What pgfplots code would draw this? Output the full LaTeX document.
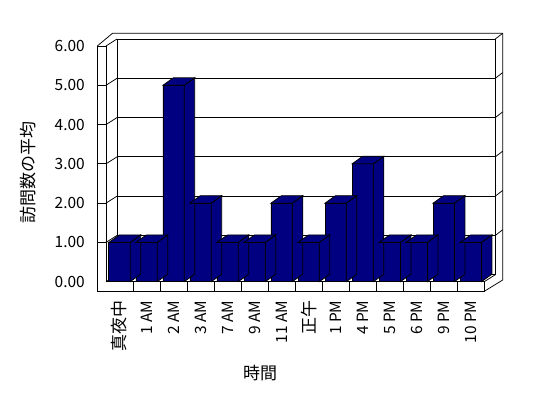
\documentclass[border=0pt]{standalone}
\usepackage{fontspec}
\setmainfont{Noto Sans CJK JP}
\usepackage{pgfplots}
\pgfplotsset{compat=1.18}
\definecolor{navy}{RGB}{0,0,128}

% 3D bar decoration: side face and top face, drawn at the top centre of each bar
\pgfdeclareplotmark{bar3d}{%
  \pgfpathmoveto{\pgfqpoint{10.65pt}{0pt}}%
  \pgfpathlineto{\pgfqpoint{21.15pt}{7.5pt}}%
  \pgfpathlineto{\pgfpoint{21.15pt}{\sidebot pt}}%
  \pgfpathlineto{\pgfpoint{10.65pt}{\negh pt}}%
  \pgfpathclose
  \pgfusepathqfillstroke
  \pgfpathmoveto{\pgfqpoint{-10.65pt}{0pt}}%
  \pgfpathlineto{\pgfqpoint{10.65pt}{0pt}}%
  \pgfpathlineto{\pgfqpoint{21.15pt}{7.5pt}}%
  \pgfpathlineto{\pgfqpoint{-0.15pt}{7.5pt}}%
  \pgfpathclose
  \pgfusepathqfillstroke
}

\begin{document}
\begin{tikzpicture}[x=1pt,y=1pt]
\useasboundingbox (0,0) rectangle (548,398);

% back wall with gridlines
\begin{axis}[
  at={(117pt,123.3pt)}, anchor=south west,
  scale only axis, width=378.3pt, height=235.7pt,
  xmin=-0.5, xmax=13.5, ymin=0, ymax=6,
  xtick=\empty, ytick={1,2,3,4,5}, yticklabels={},
  major tick length=0pt,
  ymajorgrids, grid style={black, line width=0.75pt},
  axis line style={black, line width=0.75pt},
]
\end{axis}

% walls and floor of the 3D box
\begin{scope}[line width=0.75pt, black, line join=miter]
  \draw (97.3,352) -- (97.3,106.7) -- (484.3,106.7) -- (484.3,116.3) -- (106,116.3) -- (106,352) -- cycle;
  \foreach \k in {1,...,13} { \draw (106+27.021*\k,106.7) -- (106+27.021*\k,116.3); }
  \foreach \v in {1,...,5} { \draw (97.3,116.3+39.283*\v) -- (106,116.3+39.283*\v); }
  \foreach \v in {0,...,6} { \draw (106,116.3+39.283*\v) -- (117,123.3+39.283*\v); }
  \draw (97.3,352) -- (112.5,364.7) -- (502.7,364.7) -- (502.7,118) -- (484.3,106.7);
  \draw (495.3,359) -- (502.7,364.7);
  \foreach \v in {1,...,5} { \draw (495.3,123.3+39.283*\v) -- (502.7,129+39.283*\v); }
  \draw (484.3,116.3) -- (495.3,123.3);
\end{scope}

\node[rotate=90, font=\fontsize{17}{17}\selectfont] at (28,225.5) {訪問数の平均};
\node[font=\fontsize{17}{17}\selectfont] at (260,25) {時間};

% front plane: bars and tick labels
\begin{axis}[
  at={(106pt,116.3pt)}, anchor=south west,
  scale only axis, width=378.3pt, height=235.7pt,
  xmin=-0.5, xmax=13.5, ymin=0, ymax=6,
  clip=false,
  axis line style={draw=none}, tick style={draw=none},
  xtick={0,...,13},
  xticklabels={{\fontsize{17}{17}\selectfont 真夜中},1 AM,2 AM,3 AM,7 AM,9 AM,11 AM,{\fontsize{17}{17}\selectfont 正午},1 PM,4 PM,5 PM,6 PM,9 PM,10 PM},
  ytick={0,...,6},
  yticklabels={0.00,1.00,2.00,3.00,4.00,5.00,6.00},
  ticklabel style={font=\fontsize{15.5}{15.5}\selectfont},
  xticklabel shift=18.5pt,
  xticklabel style={rotate=90, anchor=east, inner sep=0pt},
  yticklabel style={anchor=east, inner sep=0pt, xshift=-21pt},
]
\addplot[scatter, only marks, mark=bar3d,
  scatter/use mapped color={draw=black, fill=navy},
  mark options={line width=0.75pt, line join=miter},
  visualization depends on={-rawy*39.2833 \as \negh},
  visualization depends on={7.5-rawy*39.2833 \as \sidebot},
] coordinates {
  (0,1) (1,1) (2,5) (3,2) (4,1) (5,1) (6,2) (7,1) (8,2) (9,3) (10,1) (11,1) (12,2) (13,1)
};
\addplot[ybar, bar width=21.3pt, fill=navy, draw=black, line width=0.75pt] coordinates {
  (0,1) (1,1) (2,5) (3,2) (4,1) (5,1) (6,2) (7,1) (8,2) (9,3) (10,1) (11,1) (12,2) (13,1)
};
\end{axis}
\end{tikzpicture}
\end{document}
